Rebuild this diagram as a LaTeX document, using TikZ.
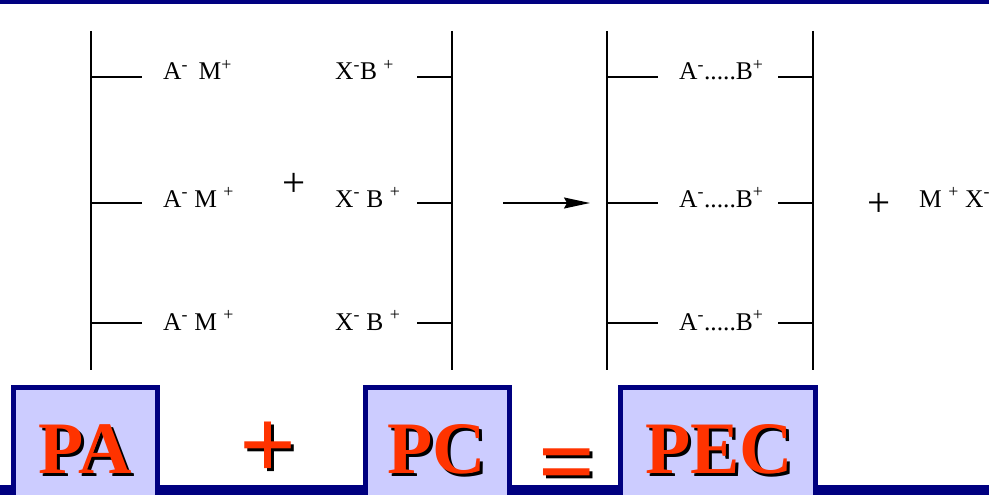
\documentclass[tikz,border=0pt]{standalone}
\usepackage{fontspec}
\setmainfont{Liberation Serif}
\usetikzlibrary{arrows.meta,calc}
\definecolor{navy}{HTML}{000080}
\definecolor{boxfill}{HTML}{CCCCFF}
\definecolor{redor}{HTML}{FF3300}
\tikzset{
  chain/.style={line width=2.3pt, black},
  small/.style={inner sep=0pt, anchor=base west, font=\fontsize{25.5}{27}\selectfont},
  plussign/.style={inner sep=0pt, font=\fontsize{41}{41}\selectfont},
  labelbox/.style={draw=navy, line width=5pt, fill=boxfill},
  bigtext/.style={inner sep=0pt, anchor=base, font=\bfseries\fontsize{74}{74}\selectfont},
  bigsym/.style={inner sep=0pt, font=\bfseries\fontsize{100}{100}\selectfont},
}
\newcommand{\shadowtext}[4]{% style, position, name, text
  \node[#1, text=black] at ($(#2)+(3,3)$) {#4};
  \node[#1, text=redor] (#3) at (#2) {#4};
}
\begin{document}
\begin{tikzpicture}[x=1pt, y=-1pt]
\clip (0,0) rectangle (989,495);
\fill[white] (0,0) rectangle (989,495);
% top and bottom bars
\fill[navy] (0,0) rectangle (989,4);
\fill[navy] (0,485) rectangle (989,495);
% polymer chains
\draw[chain] (91,31) -- (91,370);
\draw[chain] (452,31) -- (452,370);
\draw[chain] (607,31) -- (607,370);
\draw[chain] (813,31) -- (813,370);
\foreach \y in {77,203,323} {
  \draw[chain] (91,\y) -- (142,\y);
  \draw[chain] (417,\y) -- (452,\y);
  \draw[chain] (607,\y) -- (658,\y);
  \draw[chain] (778,\y) -- (813,\y);
}
% texts
\node[small] (am1) at (163,80) {A\textsuperscript{-}\ \,M\textsuperscript{+}};
\node[small] (am2) at (163,207) {A\textsuperscript{-} M \textsuperscript{+}};
\node[small] (am3) at (163,330) {A\textsuperscript{-} M \textsuperscript{+}};
\node[small] (xb1) at (335,80) {X\textsuperscript{-}B \textsuperscript{+}};
\node[small] (xb2) at (335,207) {X\textsuperscript{-} B \textsuperscript{+}};
\node[small] (xb3) at (335,330) {X\textsuperscript{-} B \textsuperscript{+}};
\node[small] (ab1) at (679,80) {A\textsuperscript{-}.....B\textsuperscript{+}};
\node[small] (ab2) at (679,207) {A\textsuperscript{-}.....B\textsuperscript{+}};
\node[small] (ab3) at (679,330) {A\textsuperscript{-}.....B\textsuperscript{+}};
\node[plussign] (p1) at (294,185) {+};
\node[plussign] (p2) at (879,205) {+};
\node[small] (mx) at (919,207) {M \textsuperscript{+} X\textsuperscript{-}};
% arrow
\coordinate (a0) at (503,203);
\coordinate (a1) at (590,203);
\draw[line width=1.5pt, -{Stealth[length=26pt, width=11pt, inset=3pt]}] (a0) -- (a1);
% boxes
\draw[labelbox] (13.5,387.5) rectangle (157.5,500);
\draw[labelbox] (365.5,387.5) rectangle (509.5,500);
\draw[labelbox] (620.5,387.5) rectangle (815,500);
\shadowtext{bigtext}{85,473}{pa}{PA}
\shadowtext{bigtext}{437,473}{pc}{PC}
\shadowtext{bigtext}{719,473}{pec}{PEC}
\shadowtext{bigsym}{268,450}{plusbig}{+}
\shadowtext{bigsym}{567,472}{eqbig}{=}
\end{tikzpicture}
\end{document}
